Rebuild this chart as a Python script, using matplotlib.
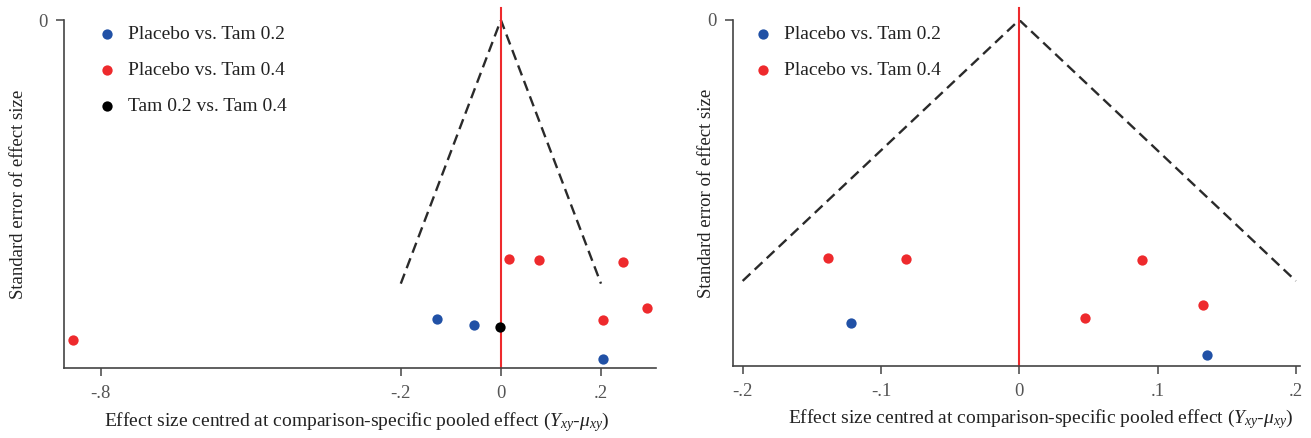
import matplotlib
matplotlib.use("Agg")
import matplotlib.pyplot as plt

plt.rcParams['font.family'] = ['Liberation Serif', 'DejaVu Serif']
plt.rcParams['mathtext.fontset'] = 'custom'
plt.rcParams['mathtext.rm'] = 'Liberation Serif'
plt.rcParams['mathtext.it'] = 'Liberation Serif:italic'

# left panel: effect size centred (x) and standard error (y)
l_p2_x = [-0.128, -0.053, 0.204]
l_p2_y = [0.1159, 0.1182, 0.1312]
l_p4_x = [0.017, 0.076, 0.245, 0.291, 0.204, -0.854]
l_p4_y = [0.0926, 0.0929, 0.0936, 0.1114, 0.1163, 0.1238]
l_t_x = [-0.002]
l_t_y = [0.1187]

# right panel
r_p2_x = [-0.122, 0.1355]
r_p2_y = [0.1186, 0.1311]
r_p4_x = [-0.138, -0.082, 0.0886, 0.0472, 0.133]
r_p4_y = [0.0930, 0.0933, 0.0940, 0.1164, 0.1115]

left_ticks = [-0.8, -0.2, 0, 0.2]
left_ticklabels = ['-.8', '-.2', '0', '.2']
right_ticks = [-0.2, -0.1, 0, 0.1, 0.2]
right_ticklabels = ['-.2', '-.1', '0', '.1', '.2']

blue = '#2151a6'
red = '#ee2a2d'
xlab = 'Effect size centred at comparison-specific pooled effect ($Y_{xy}$-$\\mu_{xy}$)'

fig = plt.figure(figsize=(13.11, 4.38), dpi=100)
ax1 = fig.add_axes([0.0488, 0.1598, 0.4516, 0.7945])
ax2 = fig.add_axes([0.5591, 0.1644, 0.4325, 0.7900])


def funnel(ax, ymax):
    lim = 0.2 / 1.96
    ax.plot([-0.2, 0, 0.2], [lim, 0, lim], ls=(0, (4.5, 2.5)), color='#2a2a2a', lw=1.7, zorder=2)
    ax.plot([0, 0], [-0.0045, ymax], color=red, lw=1.5, clip_on=False, zorder=2)


def style(ax, ticks, labels, xlim, ymax, xlab_x, ylab_x):
    ax.set_xlim(*xlim)
    ax.set_ylim(ymax, 0)
    ax.set_xticks(ticks)
    ax.set_xticklabels(labels)
    ax.set_yticks([0])
    ax.set_yticklabels(['0'])
    for s in ['top', 'right']:
        ax.spines[s].set_visible(False)
    for s in ['left', 'bottom']:
        ax.spines[s].set_color('#444444')
        ax.spines[s].set_linewidth(1.2)
    ax.tick_params(length=6, width=1.1, color='#444444', labelcolor='#555555',
                   labelsize=13.5, pad=6)
    ax.set_xlabel(xlab, fontsize=14, color='#222222')
    ax.xaxis.set_label_coords(xlab_x, -0.12)
    ax.xaxis.label.set_va('top')
    ax.set_ylabel('Standard error of effect size', fontsize=13.5, color='#222222')
    ax.yaxis.set_label_coords(ylab_x, 0.5)


ms = 55
funnel(ax1, 0.1347)
ax1.scatter(l_p2_x, l_p2_y, s=ms, color=blue, label='Placebo vs. Tam 0.2', zorder=3, lw=0)
ax1.scatter(l_p4_x, l_p4_y, s=ms, color=red, label='Placebo vs. Tam 0.4', zorder=3, lw=0)
ax1.scatter(l_t_x, l_t_y, s=ms, color='black', label='Tam 0.2 vs. Tam 0.4', zorder=4, lw=0)
style(ax1, left_ticks, left_ticklabels, (-0.873, 0.31), 0.1347, 0.495, -0.062)

funnel(ax2, 0.1353)
ax2.scatter(r_p2_x, r_p2_y, s=ms, color=blue, label='Placebo vs. Tam 0.2', zorder=3, lw=0)
ax2.scatter(r_p4_x, r_p4_y, s=ms, color=red, label='Placebo vs. Tam 0.4', zorder=3, lw=0)
style(ax2, right_ticks, right_ticklabels, (-0.207, 0.203), 0.1353, 0.543, -0.031)

ax1.legend(loc='upper left', bbox_to_anchor=(0.01, 1.035), frameon=False,
           fontsize=14, labelspacing=0.95, handletextpad=0.1, labelcolor='#222222')
ax2.legend(loc='upper left', bbox_to_anchor=(-0.013, 1.035), frameon=False,
           fontsize=14, labelspacing=0.95, handletextpad=0.1, labelcolor='#222222')

fig.savefig('out.png', dpi=100)
